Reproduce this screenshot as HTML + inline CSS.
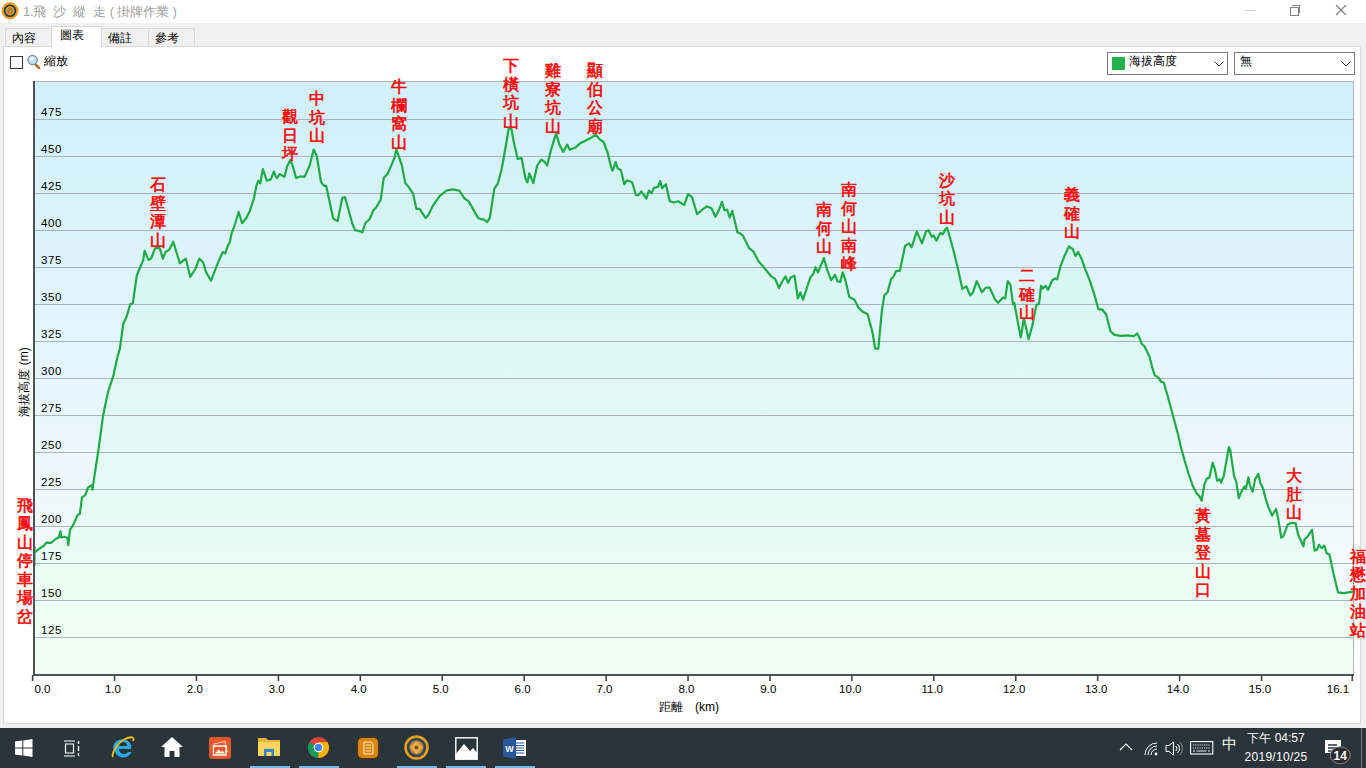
<!DOCTYPE html>
<html><head><meta charset="utf-8">
<style>
html,body{margin:0;padding:0;}
body{width:1366px;height:768px;overflow:hidden;position:relative;background:#f0f0f0;font-family:"Liberation Sans",sans-serif;}
.abs{position:absolute;}
#titlebar{left:0;top:0;width:1366px;height:23px;background:#fff;}
#title{left:23px;top:4px;font-size:12.5px;color:#a0a0a0;white-space:pre;}
.tab{position:absolute;top:28px;height:18px;background:#f0f0f0;border:1px solid #d9d9d9;border-bottom:none;font-size:12px;color:#000;box-sizing:border-box;padding-left:6px;line-height:18px;}
#panel{left:3px;top:46px;width:1358px;height:678px;background:#fff;border:1px solid #d9d9d9;box-sizing:border-box;}
#taskbar{left:0;top:728px;width:1366px;height:40px;background:#29343b;}
.lab{position:absolute;width:20px;text-align:center;color:#ff0000;font-family:"Liberation Serif",serif;font-weight:normal;-webkit-text-stroke:0.55px #ff0000;font-size:16px;line-height:18.5px;}
svg{position:absolute;left:0;top:0;}
</style></head><body>
<div id="titlebar" class="abs"></div>
<div id="title" class="abs">1.飛  沙  縱  走 ( 掛牌作業 )</div>
<div class="tab" style="left:5px;width:47px;">內容</div>
<div class="tab" style="left:101px;width:48px;">備註</div>
<div class="tab" style="left:148px;width:47px;">參考</div>
<div id="panel" class="abs"></div>

<!-- app icon -->
<svg width="22" height="22" style="left:0;top:0" viewBox="0 0 22 22">
<circle cx="10" cy="10.8" r="7.2" fill="#1f3a55" stroke="#f5a000" stroke-width="1.8"/>
<circle cx="10" cy="10.8" r="8.2" fill="none" stroke="#d08a20" stroke-width="0.6"/>
<circle cx="10" cy="10.8" r="4.6" fill="#d9a030"/>
<circle cx="10" cy="10.8" r="3" fill="#c07828"/>
<circle cx="10" cy="10.8" r="1.3" fill="#a0a040"/>
</svg>
<!-- window controls -->
<div class="abs" style="left:1245px;top:10px;width:10px;height:1px;background:#c8c8c8"></div>
<div class="abs" style="left:1292px;top:5px;width:7px;height:7px;border:1px solid #808080;border-left:none;border-bottom:none"></div>
<div class="abs" style="left:1290px;top:7px;width:7px;height:7px;border:1px solid #808080;background:#fff"></div>
<svg width="12" height="12" style="left:1335px;top:4px" viewBox="0 0 12 12"><path d="M1 1 L11 11 M11 1 L1 11" stroke="#808080" stroke-width="1.1"/></svg>
<!-- checkbox + zoom -->
<div class="abs" style="left:10px;top:56px;width:13px;height:13px;border:1px solid #333;box-sizing:border-box;background:#fff"></div>
<svg width="14" height="15" style="left:27px;top:54px" viewBox="0 0 14 15">
<path d="M7.5 9.5 L12 14" stroke="#b0702a" stroke-width="2.6" stroke-linecap="round"/>
<circle cx="5.6" cy="6" r="4.6" fill="#bfe0f5" stroke="#7e8fa0" stroke-width="1.3"/>
<circle cx="4.6" cy="4.8" r="1.6" fill="#fff"/>
</svg>
<div class="abs" style="left:44px;top:53px;font-size:12px;color:#000">縮放</div>
<!-- dropdowns -->
<div class="abs" style="left:1107px;top:52px;width:121px;height:23px;border:1px solid #7a7a7a;box-sizing:border-box;background:#fff"></div>
<div class="abs" style="left:1112px;top:57px;width:13px;height:13px;background:#22b14c"></div>
<div class="abs" style="left:1129px;top:53px;font-size:12px;color:#000">海拔高度</div>
<svg width="10" height="6" style="left:1214px;top:61px" viewBox="0 0 10 6"><path d="M0.5 0.5 L5 5 L9.5 0.5" fill="none" stroke="#404040" stroke-width="1"/></svg>
<div class="abs" style="left:1234px;top:52px;width:121px;height:23px;border:1px solid #7a7a7a;box-sizing:border-box;background:#fff"></div>
<div class="abs" style="left:1240px;top:53px;font-size:12px;color:#000">無</div>
<svg width="10" height="6" style="left:1341px;top:61px" viewBox="0 0 10 6"><path d="M0.5 0.5 L5 5 L9.5 0.5" fill="none" stroke="#404040" stroke-width="1"/></svg>

<div class="tab" style="left:51px;top:26px;height:21px;width:51px;background:#fff;border-color:#d9d9d9;padding-left:8px;line-height:16px;">圖表</div>

<svg width="1366" height="768" viewBox="0 0 1366 768">
<defs>
<linearGradient id="bg" x1="0" y1="82" x2="0" y2="675" gradientUnits="userSpaceOnUse">
<stop offset="0" stop-color="#d1f0fa"/><stop offset="1" stop-color="#fafcfe"/>
</linearGradient>
<linearGradient id="fg" x1="0" y1="82" x2="0" y2="675" gradientUnits="userSpaceOnUse">
<stop offset="0" stop-color="#cdf1f4"/><stop offset="1" stop-color="#f1fff5"/>
</linearGradient>
</defs>
<rect x="33.5" y="81.5" width="1320" height="594" fill="url(#bg)" stroke="#b0b0b0" stroke-width="1"/>
<path d="M34 675 L34 552.3 L34.5 552.3 L40 548.3 L43.9 545.8 L46.5 542.6 L51 542.9 L55.6 539 L58.8 537.4 L60.5 531.2 L61.1 537.4 L64 536.7 L67.3 537.7 L68.3 545.2 L69.9 530.2 L73.1 525 L77.6 515.1 L79.8 514 L82 497.4 L85.3 495.2 L88 487.4 L92 485.2 L92.4 489.7 L98.6 448.7 L103.1 415.5 L108.2 391.3 L113.4 375.7 L117.3 357.5 L119.9 348.4 L123.3 323.7 L126.4 317.2 L130.3 304.2 L132.9 302.9 L136.8 275.5 L139.4 269 L143.3 259.9 L144.6 250.8 L148.5 259.9 L151.1 258.6 L155.1 248.2 L159.7 248.2 L162.9 258.6 L165.5 252.1 L169.4 249.5 L173.3 241.7 L179.8 263.3 L185.8 258.6 L190.2 276.8 L195.4 269 L199.3 258.6 L203.2 262.5 L205.8 271.6 L211 280.7 L217.5 263.8 L222.7 252.1 L225.3 253.4 L227.9 245.6 L229.9 241.9 L231.7 232.8 L234.3 226.3 L238.7 212 L242.1 223.2 L246 218.5 L249.9 210.7 L253.8 199 L256.4 185.9 L258.3 180.7 L260.3 183.3 L262.9 169 L266.8 180.7 L270.7 179.4 L273.9 171.6 L276.7 178.1 L279.8 174.2 L284.5 176.8 L287.1 166.4 L290.3 159.9 L292.9 166.4 L296.2 178.1 L300.7 176.3 L304.6 176.8 L309.8 165.1 L313.7 149.5 L316.8 156 L321 182 L324.1 185.9 L326.2 185.9 L329.3 200.3 L333.2 218.5 L337.6 221.1 L342.3 197.7 L344.9 197.1 L348.8 210.7 L352.6 224.5 L355.2 230.2 L359.1 231 L362.5 232.3 L365.1 223.2 L369.5 219.3 L373.4 210.2 L376 207.6 L380.7 199.8 L383.8 177.7 L387.7 173.8 L391.6 164.6 L394.8 156.8 L396.3 149 L399.4 158.1 L402 165.9 L405.2 182.9 L408.5 186.8 L413 193.3 L416.4 208.9 L419.7 208.9 L425.5 218 L428.1 215.4 L433.3 205 L439.8 195.9 L446.3 190.7 L452.8 189.4 L459.3 190.7 L464.5 198.5 L468.4 201.1 L472.3 207.6 L478 218 L480 218.8 L483.9 219.6 L487.3 222.2 L489.9 217.5 L494.3 188.9 L497.7 183.7 L501.3 170.7 L504.7 152.5 L508.6 129 L511.2 127.7 L513.8 142 L517.7 159 L521.6 158.2 L525.5 178.5 L527.4 182.4 L529.4 173.3 L533.3 183.2 L537.2 165.5 L541.2 159.7 L544.5 161.6 L547.1 165.5 L550.3 152.5 L554.2 139.4 L556.2 133.7 L559.4 144.6 L563.3 151.9 L567.2 144.6 L569.8 149.8 L575 147.8 L580.2 143.3 L585.4 140.7 L590.6 138.1 L595.8 134.8 L599.7 139.4 L603.6 142 L607.5 152.5 L611.4 168.1 L612.6 170.7 L615.7 162.1 L617.8 168.6 L620.9 169.9 L624.3 184.2 L626.9 180.3 L632.1 182.2 L636 195.2 L638.6 195.2 L641.2 191.5 L646.4 198.5 L649 190.7 L651.6 193.3 L653.7 188.1 L658.1 186.8 L660.2 181.1 L662 188.1 L665.9 184.2 L669.8 201.2 L673.8 202.5 L678.2 201.2 L684.2 205 L688.1 194.1 L692 197.2 L697.2 214.2 L702.4 209.7 L706.8 206.4 L711.5 208.2 L715.4 216.8 L718.8 210.3 L721.9 201.9 L724.5 210.3 L727.1 209.7 L729.7 217.5 L732.3 210.8 L737.5 232.4 L740 233.3 L743.1 235.9 L749.1 248.2 L753.5 251.6 L758.2 260.7 L764.7 268.5 L771.2 276.3 L775.1 278.9 L779 288 L782.2 281.5 L785.5 276.3 L788.1 282.8 L790.7 277.6 L794.6 275.8 L797.8 298.4 L800.4 292.4 L803 299.7 L806.4 289.3 L810.3 277.6 L813.4 273.7 L815.5 267.2 L818.1 272.4 L823.8 258.1 L827.2 269.8 L831.1 280.2 L835 275 L837.6 281.5 L840.2 282 L842.8 272.4 L845.4 280.2 L849.3 297.1 L854.5 299.7 L858.4 307.5 L862.3 311.4 L867.5 314 L871.4 328.3 L872.6 333.1 L875.2 348.7 L878.3 348.7 L881.7 312.3 L884.3 295.4 L887.7 292 L890.8 279.8 L893.9 275.9 L896 271.2 L899.9 270.7 L905.1 245.9 L909 243.3 L911.6 247.2 L916.8 231.6 L922 243.3 L925.9 231.6 L928.5 230.3 L931.9 236.8 L933.8 235.5 L936.4 240.7 L940.3 232.9 L942.9 234.2 L945.5 229 L947 227.7 L949.4 235.5 L953.3 249.8 L957.2 265.5 L962.4 288.9 L966.3 286.3 L970.2 295.4 L972.8 292.8 L976.7 281.1 L981.9 292.3 L985.8 287.6 L989.7 287.6 L994.9 299.3 L998 302.7 L1003.1 297.6 L1005.2 298.4 L1007.8 281.2 L1010.4 284.6 L1013 304.1 L1014.3 302.8 L1016.9 317.1 L1020.8 337.4 L1023.9 318.4 L1026 327.5 L1028.6 339.2 L1032.5 324.9 L1036.4 304.6 L1039 304.1 L1041.1 285.9 L1042.9 288.5 L1045.5 285.9 L1048.1 289.8 L1052 280.7 L1054.6 278.6 L1057.2 279.4 L1060.4 266.4 L1064.5 255.9 L1069 246.3 L1072.9 249.4 L1075.5 255.9 L1078.1 252 L1082 259.8 L1084.6 267.7 L1089.8 280.7 L1093.7 292.4 L1098.4 309.3 L1102 309.3 L1106.2 314.5 L1110.6 331.4 L1114.5 334.8 L1121 335.8 L1127.5 335.3 L1133.9 336.1 L1137.3 333.5 L1139.1 336.9 L1141.7 343.9 L1144.3 346 L1149.5 356.4 L1152.1 366.8 L1154.7 375.2 L1158.6 377.8 L1161.2 381.9 L1163.8 382.5 L1169 400.7 L1174.2 420.2 L1178.1 434.5 L1180.7 446.2 L1184.6 460.5 L1188.5 473.5 L1192.5 485.2 L1196.4 493 L1199 495.6 L1201.6 500.8 L1204.2 485.2 L1206.8 478.7 L1209.4 477.4 L1212.7 462.6 L1214.6 468.3 L1217.2 480.8 L1219.8 479.2 L1221.1 482.6 L1223.7 476.1 L1228.9 447 L1230.2 450.1 L1234.1 476.1 L1236.2 481.3 L1238.8 498.2 L1241.4 491.7 L1244.5 486.5 L1245.8 489.1 L1248.4 477.4 L1250 485.6 L1252.6 491.6 L1255.2 479.1 L1258.3 473.9 L1260.4 483 L1263 488.2 L1265.6 498.6 L1268.2 506.4 L1272.1 515.5 L1276 509 L1278.1 518.1 L1281.3 537.7 L1283.3 536.4 L1287.8 524.6 L1291.7 522.8 L1295.6 523.3 L1298.2 535.1 L1300.8 540.3 L1303.4 546.3 L1304.7 539 L1307.3 536.9 L1312 529.8 L1314.6 550.7 L1317.2 549.4 L1319 544.7 L1321.6 548.1 L1324.2 545.5 L1326.8 553.3 L1329.4 554.6 L1333.3 572.8 L1338 592.3 L1343.8 593.1 L1352.9 591.6 L1353 591.6 L1353 675 Z" fill="url(#fg)"/>
<g stroke="#a9b5bb" stroke-width="1"><line x1="35" y1="119.5" x2="1353" y2="119.5"/><line x1="35" y1="156.5" x2="1353" y2="156.5"/><line x1="35" y1="193.5" x2="1353" y2="193.5"/><line x1="35" y1="230.5" x2="1353" y2="230.5"/><line x1="35" y1="267.5" x2="1353" y2="267.5"/><line x1="35" y1="304.5" x2="1353" y2="304.5"/><line x1="35" y1="341.5" x2="1353" y2="341.5"/><line x1="35" y1="378.5" x2="1353" y2="378.5"/><line x1="35" y1="415.5" x2="1353" y2="415.5"/><line x1="35" y1="452.5" x2="1353" y2="452.5"/><line x1="35" y1="489.5" x2="1353" y2="489.5"/><line x1="35" y1="526.5" x2="1353" y2="526.5"/><line x1="35" y1="563.5" x2="1353" y2="563.5"/><line x1="35" y1="600.5" x2="1353" y2="600.5"/><line x1="35" y1="637.5" x2="1353" y2="637.5"/></g>
<g font-family="Liberation Sans" font-size="11.5" letter-spacing="0.6" fill="#000"><text x="41" y="116">475</text><text x="41" y="153">450</text><text x="41" y="190">425</text><text x="41" y="227">400</text><text x="41" y="264">375</text><text x="41" y="301">350</text><text x="41" y="338">325</text><text x="41" y="375">300</text><text x="41" y="412">275</text><text x="41" y="449">250</text><text x="41" y="486">225</text><text x="41" y="523">200</text><text x="41" y="560">175</text><text x="41" y="597">150</text><text x="41" y="634">125</text></g>
<path d="M34.5 552.3 L40 548.3 L43.9 545.8 L46.5 542.6 L51 542.9 L55.6 539 L58.8 537.4 L60.5 531.2 L61.1 537.4 L64 536.7 L67.3 537.7 L68.3 545.2 L69.9 530.2 L73.1 525 L77.6 515.1 L79.8 514 L82 497.4 L85.3 495.2 L88 487.4 L92 485.2 L92.4 489.7 L98.6 448.7 L103.1 415.5 L108.2 391.3 L113.4 375.7 L117.3 357.5 L119.9 348.4 L123.3 323.7 L126.4 317.2 L130.3 304.2 L132.9 302.9 L136.8 275.5 L139.4 269 L143.3 259.9 L144.6 250.8 L148.5 259.9 L151.1 258.6 L155.1 248.2 L159.7 248.2 L162.9 258.6 L165.5 252.1 L169.4 249.5 L173.3 241.7 L179.8 263.3 L185.8 258.6 L190.2 276.8 L195.4 269 L199.3 258.6 L203.2 262.5 L205.8 271.6 L211 280.7 L217.5 263.8 L222.7 252.1 L225.3 253.4 L227.9 245.6 L229.9 241.9 L231.7 232.8 L234.3 226.3 L238.7 212 L242.1 223.2 L246 218.5 L249.9 210.7 L253.8 199 L256.4 185.9 L258.3 180.7 L260.3 183.3 L262.9 169 L266.8 180.7 L270.7 179.4 L273.9 171.6 L276.7 178.1 L279.8 174.2 L284.5 176.8 L287.1 166.4 L290.3 159.9 L292.9 166.4 L296.2 178.1 L300.7 176.3 L304.6 176.8 L309.8 165.1 L313.7 149.5 L316.8 156 L321 182 L324.1 185.9 L326.2 185.9 L329.3 200.3 L333.2 218.5 L337.6 221.1 L342.3 197.7 L344.9 197.1 L348.8 210.7 L352.6 224.5 L355.2 230.2 L359.1 231 L362.5 232.3 L365.1 223.2 L369.5 219.3 L373.4 210.2 L376 207.6 L380.7 199.8 L383.8 177.7 L387.7 173.8 L391.6 164.6 L394.8 156.8 L396.3 149 L399.4 158.1 L402 165.9 L405.2 182.9 L408.5 186.8 L413 193.3 L416.4 208.9 L419.7 208.9 L425.5 218 L428.1 215.4 L433.3 205 L439.8 195.9 L446.3 190.7 L452.8 189.4 L459.3 190.7 L464.5 198.5 L468.4 201.1 L472.3 207.6 L478 218 L480 218.8 L483.9 219.6 L487.3 222.2 L489.9 217.5 L494.3 188.9 L497.7 183.7 L501.3 170.7 L504.7 152.5 L508.6 129 L511.2 127.7 L513.8 142 L517.7 159 L521.6 158.2 L525.5 178.5 L527.4 182.4 L529.4 173.3 L533.3 183.2 L537.2 165.5 L541.2 159.7 L544.5 161.6 L547.1 165.5 L550.3 152.5 L554.2 139.4 L556.2 133.7 L559.4 144.6 L563.3 151.9 L567.2 144.6 L569.8 149.8 L575 147.8 L580.2 143.3 L585.4 140.7 L590.6 138.1 L595.8 134.8 L599.7 139.4 L603.6 142 L607.5 152.5 L611.4 168.1 L612.6 170.7 L615.7 162.1 L617.8 168.6 L620.9 169.9 L624.3 184.2 L626.9 180.3 L632.1 182.2 L636 195.2 L638.6 195.2 L641.2 191.5 L646.4 198.5 L649 190.7 L651.6 193.3 L653.7 188.1 L658.1 186.8 L660.2 181.1 L662 188.1 L665.9 184.2 L669.8 201.2 L673.8 202.5 L678.2 201.2 L684.2 205 L688.1 194.1 L692 197.2 L697.2 214.2 L702.4 209.7 L706.8 206.4 L711.5 208.2 L715.4 216.8 L718.8 210.3 L721.9 201.9 L724.5 210.3 L727.1 209.7 L729.7 217.5 L732.3 210.8 L737.5 232.4 L740 233.3 L743.1 235.9 L749.1 248.2 L753.5 251.6 L758.2 260.7 L764.7 268.5 L771.2 276.3 L775.1 278.9 L779 288 L782.2 281.5 L785.5 276.3 L788.1 282.8 L790.7 277.6 L794.6 275.8 L797.8 298.4 L800.4 292.4 L803 299.7 L806.4 289.3 L810.3 277.6 L813.4 273.7 L815.5 267.2 L818.1 272.4 L823.8 258.1 L827.2 269.8 L831.1 280.2 L835 275 L837.6 281.5 L840.2 282 L842.8 272.4 L845.4 280.2 L849.3 297.1 L854.5 299.7 L858.4 307.5 L862.3 311.4 L867.5 314 L871.4 328.3 L872.6 333.1 L875.2 348.7 L878.3 348.7 L881.7 312.3 L884.3 295.4 L887.7 292 L890.8 279.8 L893.9 275.9 L896 271.2 L899.9 270.7 L905.1 245.9 L909 243.3 L911.6 247.2 L916.8 231.6 L922 243.3 L925.9 231.6 L928.5 230.3 L931.9 236.8 L933.8 235.5 L936.4 240.7 L940.3 232.9 L942.9 234.2 L945.5 229 L947 227.7 L949.4 235.5 L953.3 249.8 L957.2 265.5 L962.4 288.9 L966.3 286.3 L970.2 295.4 L972.8 292.8 L976.7 281.1 L981.9 292.3 L985.8 287.6 L989.7 287.6 L994.9 299.3 L998 302.7 L1003.1 297.6 L1005.2 298.4 L1007.8 281.2 L1010.4 284.6 L1013 304.1 L1014.3 302.8 L1016.9 317.1 L1020.8 337.4 L1023.9 318.4 L1026 327.5 L1028.6 339.2 L1032.5 324.9 L1036.4 304.6 L1039 304.1 L1041.1 285.9 L1042.9 288.5 L1045.5 285.9 L1048.1 289.8 L1052 280.7 L1054.6 278.6 L1057.2 279.4 L1060.4 266.4 L1064.5 255.9 L1069 246.3 L1072.9 249.4 L1075.5 255.9 L1078.1 252 L1082 259.8 L1084.6 267.7 L1089.8 280.7 L1093.7 292.4 L1098.4 309.3 L1102 309.3 L1106.2 314.5 L1110.6 331.4 L1114.5 334.8 L1121 335.8 L1127.5 335.3 L1133.9 336.1 L1137.3 333.5 L1139.1 336.9 L1141.7 343.9 L1144.3 346 L1149.5 356.4 L1152.1 366.8 L1154.7 375.2 L1158.6 377.8 L1161.2 381.9 L1163.8 382.5 L1169 400.7 L1174.2 420.2 L1178.1 434.5 L1180.7 446.2 L1184.6 460.5 L1188.5 473.5 L1192.5 485.2 L1196.4 493 L1199 495.6 L1201.6 500.8 L1204.2 485.2 L1206.8 478.7 L1209.4 477.4 L1212.7 462.6 L1214.6 468.3 L1217.2 480.8 L1219.8 479.2 L1221.1 482.6 L1223.7 476.1 L1228.9 447 L1230.2 450.1 L1234.1 476.1 L1236.2 481.3 L1238.8 498.2 L1241.4 491.7 L1244.5 486.5 L1245.8 489.1 L1248.4 477.4 L1250 485.6 L1252.6 491.6 L1255.2 479.1 L1258.3 473.9 L1260.4 483 L1263 488.2 L1265.6 498.6 L1268.2 506.4 L1272.1 515.5 L1276 509 L1278.1 518.1 L1281.3 537.7 L1283.3 536.4 L1287.8 524.6 L1291.7 522.8 L1295.6 523.3 L1298.2 535.1 L1300.8 540.3 L1303.4 546.3 L1304.7 539 L1307.3 536.9 L1312 529.8 L1314.6 550.7 L1317.2 549.4 L1319 544.7 L1321.6 548.1 L1324.2 545.5 L1326.8 553.3 L1329.4 554.6 L1333.3 572.8 L1338 592.3 L1343.8 593.1 L1352.9 591.6" fill="none" stroke="#1faa48" stroke-width="2.2" stroke-linejoin="round"/>
<line x1="34.5" y1="546" x2="34.5" y2="566" stroke="#1faa48" stroke-width="2"/>
<line x1="34" y1="81" x2="34" y2="676" stroke="#505050" stroke-width="2"/>
<line x1="33" y1="675" x2="1354" y2="675" stroke="#505050" stroke-width="2"/>
<g stroke="#404040" stroke-width="1.6"><line x1="32.6" y1="675" x2="32.6" y2="681"/><line x1="114.53" y1="675" x2="114.53" y2="681"/><line x1="196.46" y1="675" x2="196.46" y2="681"/><line x1="278.39" y1="675" x2="278.39" y2="681"/><line x1="360.32" y1="675" x2="360.32" y2="681"/><line x1="442.25" y1="675" x2="442.25" y2="681"/><line x1="524.18" y1="675" x2="524.18" y2="681"/><line x1="606.11" y1="675" x2="606.11" y2="681"/><line x1="688.04" y1="675" x2="688.04" y2="681"/><line x1="769.97" y1="675" x2="769.97" y2="681"/><line x1="851.9" y1="675" x2="851.9" y2="681"/><line x1="933.83" y1="675" x2="933.83" y2="681"/><line x1="1015.76" y1="675" x2="1015.76" y2="681"/><line x1="1097.69" y1="675" x2="1097.69" y2="681"/><line x1="1179.62" y1="675" x2="1179.62" y2="681"/><line x1="1261.55" y1="675" x2="1261.55" y2="681"/><line x1="1352.3" y1="675" x2="1352.3" y2="681"/></g>
<g font-family="Liberation Sans" font-size="11.5" fill="#000"><text x="42.5" y="693" text-anchor="middle">0.0</text><text x="112.93" y="693" text-anchor="middle">1.0</text><text x="194.86" y="693" text-anchor="middle">2.0</text><text x="276.79" y="693" text-anchor="middle">3.0</text><text x="358.72" y="693" text-anchor="middle">4.0</text><text x="440.65000000000003" y="693" text-anchor="middle">5.0</text><text x="522.58" y="693" text-anchor="middle">6.0</text><text x="604.51" y="693" text-anchor="middle">7.0</text><text x="686.44" y="693" text-anchor="middle">8.0</text><text x="768.3700000000001" y="693" text-anchor="middle">9.0</text><text x="850.3000000000001" y="693" text-anchor="middle">10.0</text><text x="932.23" y="693" text-anchor="middle">11.0</text><text x="1014.1600000000001" y="693" text-anchor="middle">12.0</text><text x="1096.0900000000001" y="693" text-anchor="middle">13.0</text><text x="1178.02" y="693" text-anchor="middle">14.0</text><text x="1259.95" y="693" text-anchor="middle">15.0</text><text x="1338" y="693" text-anchor="middle">16.1</text></g>
<text x="659" y="711" font-family="Liberation Sans" font-size="12" fill="#000">距離</text><text x="695" y="711" font-family="Liberation Sans" font-size="12" fill="#000">(km)</text>
<text transform="translate(28,382) rotate(-90)" font-family="Liberation Sans" font-size="12" text-anchor="middle" fill="#000">海拔高度 (m)</text>
</svg>
<div class="lab" style="left:15px;top:496.5px">飛<br>鳳<br>山<br>停<br>車<br>場<br>岔</div>
<div class="lab" style="left:148px;top:176px">石<br>壁<br>潭<br>山</div>
<div class="lab" style="left:280px;top:108px">觀<br>日<br>坪</div>
<div class="lab" style="left:307px;top:90px">中<br>坑<br>山</div>
<div class="lab" style="left:389px;top:78px">牛<br>欄<br>窩<br>山</div>
<div class="lab" style="left:501px;top:57px">下<br>橫<br>坑<br>山</div>
<div class="lab" style="left:543px;top:62px">雞<br>寮<br>坑<br>山</div>
<div class="lab" style="left:585px;top:62px">顯<br>伯<br>公<br>廟</div>
<div class="lab" style="left:813.5px;top:201px">南<br>何<br>山</div>
<div class="lab" style="left:838.5px;top:181px">南<br>何<br>山<br>南<br>峰</div>
<div class="lab" style="left:937px;top:171.5px">沙<br>坑<br>山</div>
<div class="lab" style="left:1016.5px;top:267px">二<br>確<br>山</div>
<div class="lab" style="left:1061.5px;top:186px">義<br>確<br>山</div>
<div class="lab" style="left:1193px;top:507px">黃<br>墓<br>登<br>山<br>口</div>
<div class="lab" style="left:1284px;top:467px">大<br>肚<br>山</div>
<div class="lab" style="left:1347.5px;top:547.5px">福<br>懋<br>加<br>油<br>站</div>


<div id="taskbar" class="abs"></div>
<!-- windows logo -->
<svg width="18" height="18" style="left:15px;top:739px" viewBox="0 0 18 18">
<path d="M0 2.5 L7.3 1.5 L7.3 8.4 L0 8.4 Z M8.3 1.4 L17.5 0 L17.5 8.4 L8.3 8.4 Z M0 9.4 L7.3 9.4 L7.3 16.4 L0 15.4 Z M8.3 9.4 L17.5 9.4 L17.5 18 L8.3 16.6 Z" fill="#fff"/>
</svg>
<!-- task view -->
<svg width="18" height="17" style="left:63px;top:740px" viewBox="0 0 18 17">
<path d="M1 1 H12 M1 16 H12 M2.5 4 H10.5 V13 H2.5 Z" fill="none" stroke="#fff" stroke-width="1.2"/>
<path d="M15.5 1 V4 M15.5 6 V11 M15.5 13 V16" stroke="#fff" stroke-width="1.4"/>
</svg>
<!-- IE -->
<svg width="24" height="24" style="left:111px;top:735px" viewBox="0 0 24 24">
<path d="M4 17 A9 8 0 1 1 20 14 H8 A5 5 0 0 0 17 17 H20.5 A9 9 0 0 1 4 17 Z M8 11 H16 A4 4 0 0 0 8 11 Z" fill="#29a8e0"/>
<path d="M2 22 C0 19 6 8 14 4 C20 1 24 2 22 6" fill="none" stroke="#f4c20d" stroke-width="1.8"/>
</svg>
<!-- home -->
<svg width="24" height="22" style="left:160px;top:736px" viewBox="0 0 24 22">
<path d="M12 1 L23 11 H19.5 V21 H14.5 V15 H9.5 V21 H4.5 V11 H1 Z" fill="#fff"/>
</svg>
<!-- photos orange -->
<svg width="23" height="22" style="left:209px;top:737px" viewBox="0 0 23 22">
<rect x="0" y="0" width="22" height="22" rx="3" fill="#e8562a"/>
<path d="M5 7 L16 4.5 L18 14.5 L7 17 Z" fill="none" stroke="#f6c9b5" stroke-width="1.2"/>
<path d="M4.5 9 H17 V18 H4.5 Z" fill="#e8562a" stroke="#fff" stroke-width="1.4"/>
<path d="M6 16.5 L9.5 12.5 L12 15 L13.5 13.5 L16 16.5 Z" fill="#fff"/>
</svg>
<!-- folder -->
<svg width="23" height="21" style="left:258px;top:737px" viewBox="0 0 23 21">
<path d="M0 1 H8 L10 3 H22 V19 H0 Z" fill="#e8b33c"/>
<path d="M0 5 H22 V19 H0 Z" fill="#fbd35d"/>
<path d="M6 12 H16 V19 H13.5 V15 H8.5 V19 H6 Z" fill="#2f86d6"/>
</svg>
<div class="abs" style="left:250px;top:766px;width:40px;height:2px;background:#75b9f0"></div>
<!-- chrome -->
<svg width="23" height="23" style="left:307px;top:736px" viewBox="0 0 24 24">
<circle cx="12" cy="12" r="11" fill="#db4437"/>
<path d="M12 12 L2.5 6.5 A11 11 0 0 0 12 23 Z" fill="#0f9d58"/>
<path d="M12 12 L12 23 A11 11 0 0 0 21.5 6.5 L12 6.5 Z" fill="#f4b400"/>
<circle cx="12" cy="12" r="5" fill="#fff"/>
<circle cx="12" cy="12" r="3.8" fill="#4285f4"/>
</svg>
<div class="abs" style="left:299px;top:766px;width:40px;height:2px;background:#75b9f0"></div>
<!-- orange app -->
<svg width="22" height="22" style="left:357px;top:737px" viewBox="0 0 22 22">
<rect x="0.5" y="0.5" width="21" height="21" rx="5" fill="#d9850f" stroke="#553311" stroke-width="1"/>
<path d="M7 5 H14 L16 7 V17 H7 Z" fill="none" stroke="#fff0d0" stroke-width="1"/>
<path d="M9 8 H14 M9 11 H14 M9 14 H14" stroke="#fff0d0" stroke-width="0.9"/>
</svg>
<!-- gold circle app -->
<svg width="25" height="25" style="left:404px;top:735px" viewBox="0 0 25 25">
<circle cx="12.5" cy="12.5" r="11" fill="#2e4a5a" stroke="#f0a010" stroke-width="2.5"/>
<circle cx="12.5" cy="12.5" r="7" fill="#c08040"/>
<path d="M12.5 6 L19 12.5 L12.5 19 L6 12.5 Z" fill="#e8b040"/>
<circle cx="12.5" cy="12.5" r="2" fill="#805020"/>
</svg>
<div class="abs" style="left:397px;top:766px;width:40px;height:2px;background:#75b9f0"></div>
<!-- photos white -->
<svg width="23" height="23" style="left:455px;top:737px" viewBox="0 0 23 23">
<rect x="0.8" y="0.8" width="21.4" height="21.4" fill="none" stroke="#fff" stroke-width="1.4"/>
<path d="M0.8 22 L0.8 17 L9 7 L15 14 L18 11 L22.2 16 L22.2 22 Z" fill="#fff"/>
</svg>
<div class="abs" style="left:446px;top:766px;width:40px;height:2px;background:#75b9f0"></div>
<!-- word -->
<svg width="24" height="22" style="left:503px;top:737px" viewBox="0 0 24 22">
<rect x="9" y="3" width="14" height="16" fill="#fff"/>
<path d="M12 6 H21 M12 8.5 H21 M12 11 H21 M12 13.5 H21 M12 16 H21" stroke="#2b579a" stroke-width="1"/>
<path d="M0 2.5 L13 0 V22 L0 19.5 Z" fill="#2b579a"/>
<text x="6.5" y="14.5" font-family="Liberation Sans" font-size="9" font-weight="bold" fill="#fff" text-anchor="middle">W</text>
</svg>
<div class="abs" style="left:495px;top:766px;width:40px;height:2px;background:#75b9f0"></div>
<!-- tray -->
<svg width="14" height="8" style="left:1119px;top:743px" viewBox="0 0 14 8"><path d="M1 7 L7 1 L13 7" fill="none" stroke="#fff" stroke-width="1.2"/></svg>
<svg width="14" height="14" style="left:1144px;top:742px" viewBox="0 0 14 14">
<path d="M1 13 A12 12 0 0 1 13 1 M4 13 A9 9 0 0 1 13 4 M7 13 A6 6 0 0 1 13 7" fill="none" stroke="#fff" stroke-width="1"/>
<circle cx="12" cy="12" r="1.4" fill="#fff"/>
</svg>
<svg width="18" height="15" style="left:1165px;top:741px" viewBox="0 0 18 15">
<path d="M1 4.5 H4 L8.5 1 V14 L4 10.5 H1 Z" fill="none" stroke="#fff" stroke-width="1"/>
<path d="M10.5 5 A3 3 0 0 1 10.5 10 M12.5 3 A6 6 0 0 1 12.5 12" fill="none" stroke="#fff" stroke-width="1"/>
<path d="M14.8 1 A9 9 0 0 1 14.8 14" fill="none" stroke="#888" stroke-width="1"/>
</svg>
<svg width="24" height="14" style="left:1190px;top:741px" viewBox="0 0 24 14">
<rect x="0.6" y="0.6" width="22.2" height="12.4" fill="none" stroke="#fff" stroke-width="1.1"/>
<path d="M3 4 H20 M3 7 H20" stroke="#fff" stroke-width="0.9" stroke-dasharray="1.2 1"/>
<path d="M3 10 H5 M6.5 10 H16.5 M18 10 H20" stroke="#fff" stroke-width="0.9"/>
</svg>
<div class="abs" style="left:1222px;top:735px;font-size:15px;color:#fff">中</div>
<div class="abs" style="left:1236px;top:729px;width:80px;text-align:center;font-size:12px;color:#fff;line-height:18.5px">下午 04:57<br><span style="letter-spacing:0.3px">2019/10/25</span></div>
<div class="abs" style="left:1325px;top:740px;width:16px;height:13px;background:#fff"></div>
<svg width="60" height="40" style="left:1306px;top:728px" viewBox="0 0 60 40">
<path d="M22 17 H31 M22 20 H31 M22 23 H28" stroke="#29343b" stroke-width="1.3"/>
<ellipse cx="34.3" cy="27.3" rx="10" ry="8.5" fill="#2b2b2b" stroke="#888" stroke-width="1"/>
<text x="34.3" y="31.8" font-family="Liberation Sans" font-size="12" font-weight="bold" fill="#fff" text-anchor="middle">14</text>
<line x1="55.5" y1="0" x2="55.5" y2="40" stroke="#777" stroke-width="1"/>
</svg>

</body></html>
